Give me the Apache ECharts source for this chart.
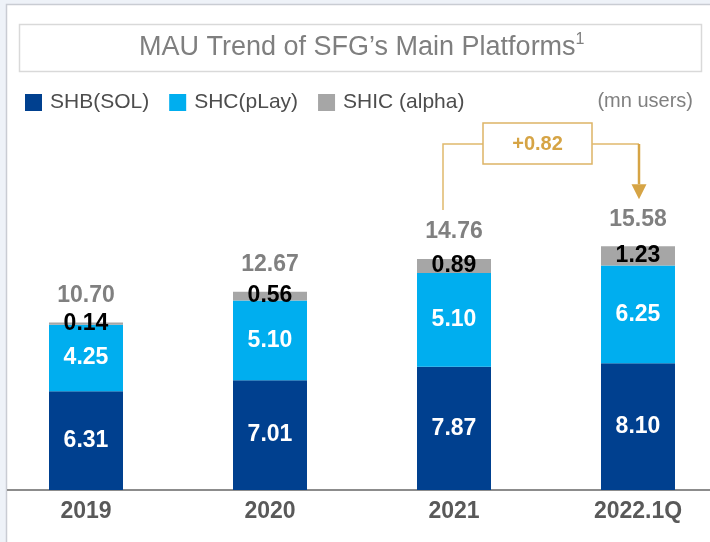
<!DOCTYPE html>
<html>
<head>
<meta charset="utf-8">
<script src="https://cdn.jsdelivr.net/npm/echarts@6/dist/echarts.min.js"></script>
<style>
    html, body { margin: 0; padding: 0; background: #eef2f8; }
    #main { width: 710px; height: 542px; }
</style>
</head>
<body>
<div id="main"></div>
<script type="text/javascript">
    // data (mn users)
    var categories = ['2019', '2020', '2021', '2022.1Q'];
    var shb = [6.31, 7.01, 7.87, 8.10];
    // 2021 bar is drawn 6.00 tall on the slide but printed as 5.10
    var shc = [4.25, 5.10, 6.00, 6.25];
    var shcText = ['4.25', '5.10', '5.10', '6.25'];
    var shic = [0.14, 0.56, 0.89, 1.23];
    var totals = [10.70, 12.67, 14.76, 15.58];
    var seriesNames = ['SHB(SOL)', 'SHC(pLay)', 'SHIC (alpha)'];

    var FONT = '"Liberation Sans", Arial, sans-serif';
    var GOLD = '#d6a445';

    var myChart = echarts.init(document.getElementById('main'));

    var innerLabel = function (color, texts) {
        return {
            show: true,
            position: 'inside',
            color: color,
            fontFamily: FONT,
            fontWeight: 'bold',
            fontSize: 23,
            formatter: function (p) {
                return texts ? texts[p.dataIndex] : p.value.toFixed(2);
            }
        };
    };

    var option = {
        backgroundColor: 'transparent',
        animation: false,
        title: {
            text: '{t|MAU Trend of SFG\u2019s Main Platforms}{s|1}',
            left: 139,
            top: 32,
            padding: 0,
            textStyle: {
                fontWeight: 'normal',
                rich: {
                    t: { fontFamily: FONT, fontSize: 27, fontWeight: 'normal', color: '#7f7f7f', lineHeight: 32 },
                    s: { fontFamily: FONT, fontSize: 16, fontWeight: 'normal', color: '#7f7f7f', lineHeight: 16, verticalAlign: 'top' }
                }
            }
        },
        legend: {
            data: seriesNames,
            left: 25,
            top: 92,
            padding: 0,
            icon: 'rect',
            itemWidth: 17,
            itemHeight: 17,
            itemGap: 20,
            textStyle: {
                fontFamily: FONT,
                fontSize: 21,
                color: '#4d4d4d',
                padding: [0, 0, 0, 3]
            }
        },
        grid: {
            left: 86,
            right: 72,
            top: 177,
            bottom: 52
        },
        xAxis: {
            type: 'category',
            data: categories,
            boundaryGap: false,
            axisLine: { show: false },
            axisTick: { show: false },
            axisLabel: {
                margin: 10,
                fontFamily: FONT,
                fontSize: 23,
                fontWeight: 'bold',
                color: '#595959'
            }
        },
        yAxis: {
            type: 'value',
            min: 0,
            max: 20,
            show: false,
            splitLine: { show: false }
        },
        series: [
            {
                name: seriesNames[0],
                type: 'bar',
                stack: 'mau',
                barWidth: 74,
                clip: false,
                itemStyle: { color: '#00408f' },
                label: innerLabel('#ffffff'),
                data: shb
            },
            {
                name: seriesNames[1],
                type: 'bar',
                stack: 'mau',
                barWidth: 74,
                clip: false,
                itemStyle: { color: '#00aeef' },
                label: innerLabel('#ffffff', shcText),
                data: shc
            },
            {
                name: seriesNames[2],
                type: 'bar',
                stack: 'mau',
                barWidth: 74,
                clip: false,
                itemStyle: { color: '#a6a6a6' },
                label: innerLabel('#000000'),
                data: shic
            },
            {
                // totals shown above the bars
                name: 'total',
                type: 'line',
                symbol: 'circle',
                symbolSize: 1,
                silent: true,
                itemStyle: { color: 'rgba(0,0,0,0)' },
                lineStyle: { opacity: 0 },
                label: {
                    show: true,
                    position: 'top',
                    distance: 15,
                    color: '#808080',
                    fontFamily: FONT,
                    fontWeight: 'bold',
                    fontSize: 23,
                    formatter: function (p) { return p.value.toFixed(2); }
                },
                data: totals
            }
        ]
    };
    myChart.setOption(option);

    // frame, title box, baseline and the +0.82 call-out
    var base = myChart.convertToPixel({ seriesIndex: 3 }, [0, 0]);
    var p21 = myChart.convertToPixel({ seriesIndex: 3 }, [2, totals[2]]);
    var p22 = myChart.convertToPixel({ seriesIndex: 3 }, [3, totals[3]]);
    var delta = (totals[3] - totals[2]).toFixed(2);
    var boxY = 144;

    myChart.setOption({
        graphic: [
            { type: 'rect', z: -10, silent: true,
              shape: { x: 6.5, y: 4.5, width: 720, height: 560 },
              style: { fill: '#ffffff', stroke: '#c9ccd3', lineWidth: 1.5 } },
            { type: 'rect', z: -9, silent: true,
              shape: { x: 19.5, y: 24.5, width: 682, height: 47 },
              style: { fill: '#ffffff', stroke: '#d9d9d9', lineWidth: 1.5 } },
            { type: 'text', silent: true,
              style: { x: 693, y: 101, text: '(mn users)', align: 'right', verticalAlign: 'middle',
                       font: '20px ' + FONT, fill: '#808080' } },
            { type: 'line', silent: true,
              shape: { x1: 7, y1: base[1], x2: 710, y2: base[1] },
              style: { stroke: '#8c8c8c', lineWidth: 2 } },
            // left bracket
            { type: 'polyline', silent: true,
              shape: { points: [[p21[0] - 11, p21[1] - 49], [p21[0] - 11, boxY], [483, boxY]] },
              style: { stroke: '#e0b96c', lineWidth: 1.5, fill: null } },
            { type: 'rect', silent: true,
              shape: { x: 483, y: 123, width: 109, height: 41 },
              style: { fill: '#ffffff', stroke: '#ddb466', lineWidth: 1.5 } },
            { type: 'text', silent: true,
              style: { x: 537.5, y: boxY, text: '+' + delta, align: 'center', verticalAlign: 'middle',
                       font: 'bold 20px ' + FONT, fill: GOLD } },
            { type: 'polyline', silent: true,
              shape: { points: [[592, boxY], [p22[0] + 1, boxY]] },
              style: { stroke: '#e0b96c', lineWidth: 1.5, fill: null } },
            { type: 'line', silent: true,
              shape: { x1: p22[0] + 1, y1: boxY, x2: p22[0] + 1, y2: p22[1] - 62 },
              style: { stroke: GOLD, lineWidth: 2.5 } },
            { type: 'polygon', silent: true,
              shape: { points: [[p22[0] - 6.5, p22[1] - 62], [p22[0] + 8.5, p22[1] - 62], [p22[0] + 1, p22[1] - 47]] },
              style: { fill: GOLD } }
        ]
    });
</script>
</body>
</html>
